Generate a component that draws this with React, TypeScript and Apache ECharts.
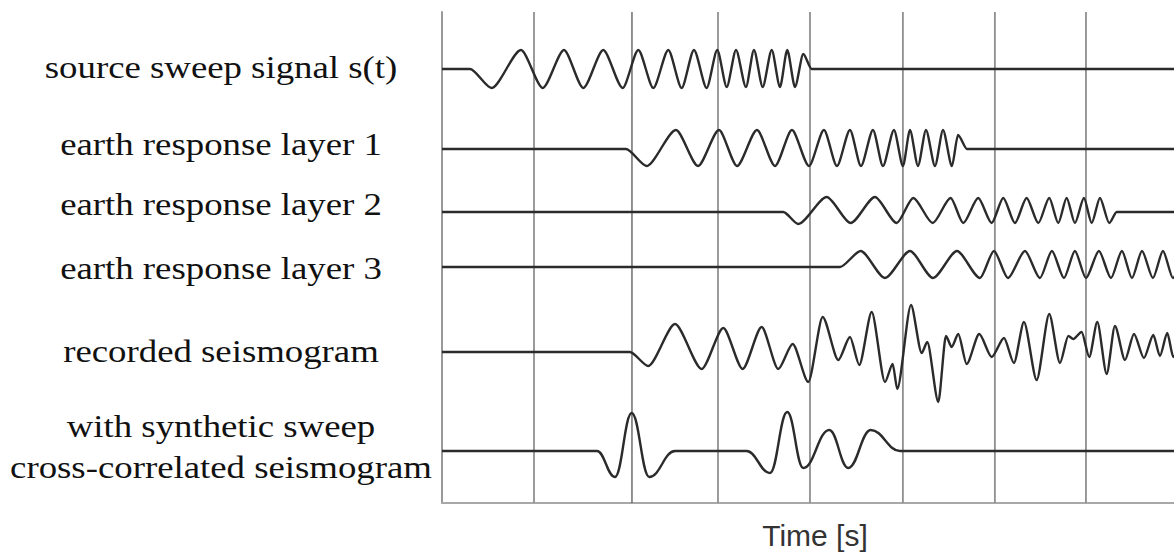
import { useEffect, useRef } from "react";
import * as echarts from "echarts";

// Each trace: [time (s), amplitude] pairs at its turning points, amplitude relative to the trace baseline.
const sourceSweep: [number, number][] = [
  [0, 0], [0.304, 0], [0.54, -19], [0.859, 19], [1.095, -19], [1.326, 19], [1.536, -19], [1.753, 19],
  [1.964, -19], [2.134, 19], [2.297, -19], [2.46, 19], [2.605, -19], [2.739, 19], [2.877, -19], [2.992, 19],
  [3.095, -18], [3.196, 19], [3.304, -18], [3.391, 19], [3.486, -18], [3.584, 19], [3.674, -18], [3.753, 19],
  [3.837, -18], [3.927, 15], [4.018, 0], [7.957, 0],
];

const layer1: [number, number][] = [
  [0, 0], [2.0, 0], [2.225, -17], [2.543, 19], [2.783, -17], [3.011, 19], [3.207, -17], [3.424, 19],
  [3.62, -17], [3.804, 19], [3.989, -17], [4.152, 19], [4.293, -17], [4.435, 19], [4.554, -17], [4.685, 19],
  [4.793, -17], [4.913, 19], [5.011, -17], [5.087, 19], [5.174, -17], [5.261, 19], [5.359, -17], [5.446, 19],
  [5.543, -17], [5.609, 14], [5.707, 0], [7.957, 0],
];

const layer2: [number, number][] = [
  [0, 0], [3.71, 0], [3.873, -12], [4.182, 15], [4.442, -11], [4.707, 15], [4.942, -11], [5.123, 14],
  [5.334, -11], [5.529, 14], [5.666, -11], [5.829, 14], [5.975, -11], [6.101, 14], [6.228, -11], [6.355, 14],
  [6.482, -11], [6.601, 14], [6.699, -11], [6.79, 14], [6.88, -11], [6.978, 14], [7.062, -11], [7.152, 14],
  [7.253, -11], [7.334, 0], [7.957, 0],
];

const layer3: [number, number][] = [
  [0, 0], [4.326, 0], [4.551, 16], [4.815, -11], [5.087, 16], [5.337, -11], [5.598, 16], [5.848, -11],
  [6.0, 16], [6.152, -11], [6.337, 16], [6.5, -11], [6.63, 16], [6.761, -11], [6.88, 16], [7.0, -11],
  [7.141, 16], [7.272, -11], [7.391, 16], [7.5, -11], [7.609, 16], [7.728, -11], [7.837, 16], [7.946, -11],
  [8.06, 16],
];

const recorded: [number, number][] = [
  [0, 0], [2.043, 0], [2.242, -14], [2.533, 28], [2.823, -17], [3.058, 24], [3.268, -17], [3.475, 25],
  [3.655, -17], [3.812, 8], [3.982, -30], [4.138, 35], [4.308, -8], [4.435, 15], [4.536, -13], [4.671, 40],
  [4.815, -30], [4.899, -12], [4.949, -37], [5.098, 47], [5.214, -1], [5.275, 10], [5.395, -50], [5.478, 16],
  [5.54, 5], [5.612, 18], [5.703, -12], [5.84, 18], [5.975, -5], [6.109, 14], [6.217, -11], [6.326, 30],
  [6.464, -28], [6.601, 38], [6.717, -11], [6.808, 16], [6.862, 13], [6.953, 20], [7.036, -5], [7.123, 30],
  [7.225, -22], [7.315, 26], [7.424, -8], [7.522, 18], [7.63, -6], [7.732, 17], [7.804, -4], [7.884, 19],
  [7.949, -5], [8.03, 18],
];

const correlated: [number, number][] = [
  [0, 0], [1.685, 0], [1.88, -26], [2.062, 38], [2.253, -26], [2.533, 0], [3.312, 0], [3.565, -22],
  [3.753, 39], [3.927, -17], [4.21, 21], [4.416, -17], [4.66, 21], [4.978, 0], [7.957, 0],
];

const traces = [sourceSweep, layer1, layer2, layer3, recorded, correlated];
const baselines = [434, 354, 291, 236, 151, 52];
const traceLabels = [
  "source sweep signal s(t)",
  "earth response layer 1",
  "earth response layer 2",
  "earth response layer 3",
  "recorded seismogram",
  "with synthetic sweep\ncross-correlated seismogram",
];
const gridTimes = [1, 2.065, 3, 4, 5.01, 6.01, 7];
const timeMax = 7.957;
const ampMax = 491;

// vertical centre of each label, in page pixels
const labelCenters = [67, 144, 204, 268, 351, 446.5];

export default function App() {
  const ref = useRef<HTMLDivElement>(null);

  useEffect(() => {
    if (!ref.current) return;
    const chart = echarts.init(ref.current, undefined, { renderer: "svg" });

    const gridSeries = gridTimes.map((t, i) => ({
      type: "line" as const,
      data: [[t, 0], [t, ampMax]],
      symbol: "none",
      silent: true,
      z: 1,
      lineStyle: i === 1 ? { color: "#4a4a4a", width: 1.2 } : { color: "#8f8f8f", width: 1.8 },
    }));

    // the correlated trace has broad, rounded wavelets; the others are sharper zig-zags
    const traceSeries = traces.map((pts, i) => ({
      type: "line" as const,
      name: traceLabels[i],
      data: pts.map(([t, a]) => [t, baselines[i] + a]),
      smooth: i === 5 ? 0.42 : 0.26,
      smoothMonotone: "x",
      symbol: "none",
      silent: true,
      clip: true,
      z: 3,
      lineStyle: { color: "#2b2b2b", width: 2.4 },
    }));

    chart.setOption({
      animation: false,
      backgroundColor: "#ffffff",
      grid: { left: 442, right: 0, top: 12, bottom: 51, outerBoundsMode: "none" },
      xAxis: {
        type: "value",
        min: 0,
        max: timeMax,
        axisLine: { show: true, onZero: false, lineStyle: { color: "#a8a8a8", width: 2 } },
        axisTick: { show: false },
        axisLabel: { show: false },
        splitLine: { show: false },
        name: "Time [s]",
        nameLocation: "middle",
        nameGap: 17,
        nameTextStyle: {
          fontFamily: "Liberation Sans",
          fontSize: 30,
          color: "#333333",
          padding: [0, 0, 0, 14],
        },
      },
      yAxis: {
        type: "value",
        min: 0,
        max: ampMax,
        axisLine: { show: true, onZero: false, lineStyle: { color: "#999999", width: 2 } },
        axisTick: {
          show: true,
          inside: true,
          length: 5,
          customValues: baselines,
          lineStyle: { color: "#777777", width: 1.5 },
        },
        axisLabel: { show: false },
        splitLine: { show: false },
      },
      graphic: traceLabels.map((text, i) => ({
        type: "text",
        x: 221,
        y: labelCenters[i],
        scaleX: 1.15,
        silent: true,
        style: {
          text,
          fill: "#111111",
          fontFamily: "Liberation Serif",
          fontSize: 32,
          lineHeight: 41,
          align: "center",
          verticalAlign: "middle",
          textAlign: "center",
          textVerticalAlign: "middle",
        },
      })),
      series: [...gridSeries, ...traceSeries],
    });

    return () => chart.dispose();
  }, []);

  return (
    <div
      ref={ref}
      style={{ position: "fixed", left: 0, top: 0, width: 1174, height: 554, background: "#fff" }}
    />
  );
}
